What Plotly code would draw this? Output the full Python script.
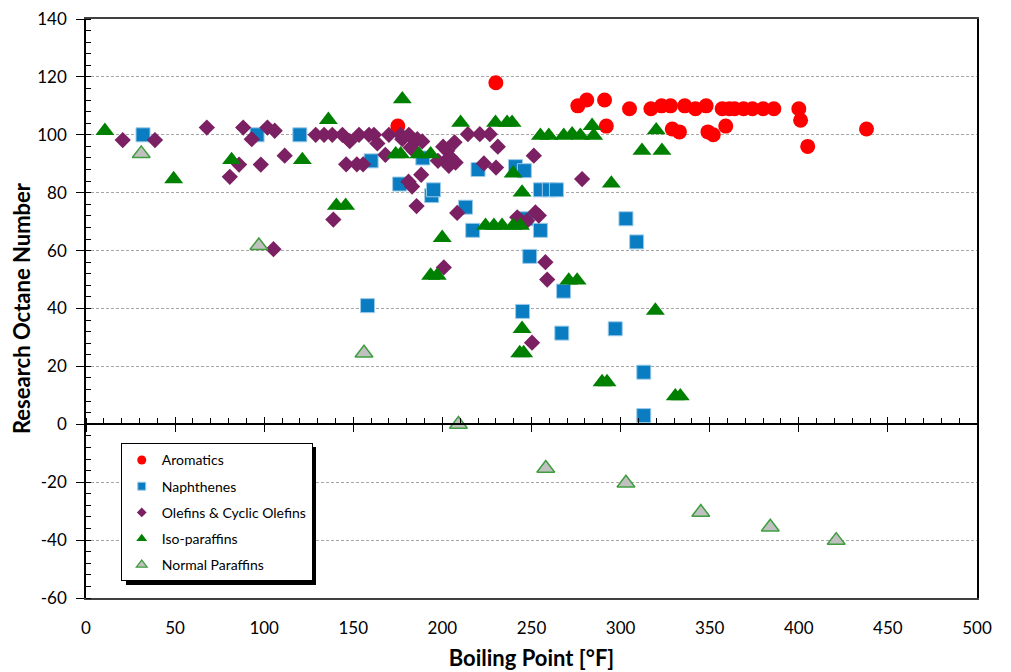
import plotly.graph_objects as go

# ---------------- data ----------------
arom_x = [175, 230, 276, 281, 291, 292, 305, 317, 323, 328, 329, 333, 336, 342, 348,
          349, 352, 357, 359, 361, 364, 369, 374, 380, 386, 400, 401, 405, 438]
arom_y = [103, 118, 110, 112, 112, 103, 109, 109, 110, 110, 102, 101, 110, 109, 110,
          101, 100, 109, 103, 109, 109, 109, 109, 109, 109, 109, 105, 96, 102]

naph_x = [32, 96, 120, 158, 160, 176, 189, 194, 195, 213, 217, 220, 241, 245, 246,
          247, 249, 255, 255, 260, 264, 267, 268, 297, 303, 309, 313, 313]
naph_y = [100, 100, 100, 41, 91, 83, 92, 79, 81, 75, 67, 88, 89, 39, 87.6,
          71, 58, 81, 67, 81, 81, 31.5, 46, 33, 71, 63, 18, 3]

olef_x = [20.6, 38.7, 67.8, 80.7, 85.9, 88.2, 93, 98.1, 101.8, 105.9, 111.5, 105.2, 138.8,
          128.9, 133.6, 138.2, 143.9, 153.2, 158.8, 161.6, 170, 176.6, 181.2,
          148, 163.5, 168, 146, 152, 155.5, 177.5, 181, 183, 185.9, 188.7, 188.1, 185.5,
          182.2, 184, 200.4, 202.7, 206.8, 204.6, 201.8, 207.4, 203.6, 197.5, 208.3, 200.8,
          214.3, 221, 226.6, 231.1, 223.3, 230.1, 251.3, 278.4, 242, 247.5, 252.2, 254.1,
          257.8, 258.8, 250.3]
olef_y = [98.2, 98.2, 102.5, 85.5, 89.7, 102.5, 98.5, 89.7, 102.5, 101.4, 92.8, 60.5, 70.7,
          100, 100, 100, 100, 100, 100, 100, 100, 100, 100,
          97.8, 97, 93.1, 89.8, 89.8, 89.8, 98.5, 83.8, 82.1, 98.5, 97.7, 86.2, 75.4,
          95.6, 94.5, 95.9, 94.5, 97.4, 92.2, 91, 90.4, 89.3, 91, 73, 54.2,
          100.2, 100.2, 100.2, 95.9, 90.1, 88.7, 92.8, 84.7, 71.5, 70.3, 73.2, 72.1,
          56, 50, 28.2]

iso_x = [10.6, 49.2, 81.7, 121.4, 136, 140.5, 145.7, 177.5, 173.8, 176.6, 186.8, 193.4,
         210.2, 229.8, 236.3, 239.1, 255, 259.7, 268.1, 272.8, 277.4, 284, 284.9,
         239.7, 244.7, 199.9, 193.4, 197.1, 224.2, 228.9, 233.5, 239.7, 243.8,
         270.9, 275.6, 294.8, 312, 320, 323.2, 244.7, 243.4, 245.6, 289.6, 292.4,
         319.5, 330.7, 333.5]
iso_y = [101.4, 84.7, 91.3, 91.3, 105.2, 75.5, 75.5, 112.3, 93.3, 93.3, 93.3, 93.3,
         104.2, 104.2, 104.2, 104.2, 99.7, 99.7, 99.7, 100.2, 99.7, 103.1, 99.7,
         86.7, 80.1, 64.4, 51.4, 51.4, 68.6, 68.6, 68.6, 68.6, 68.6,
         49.7, 49.7, 83.2, 94.5, 101.6, 94.5, 33, 24.6, 24.6, 14.6, 14.6,
         39.3, 9.7, 9.7]

norm_x = [31, 97, 156, 209, 258, 303, 345, 384, 421]
norm_y = [93.5, 61.7, 24.6, 0, -15.2, -20.3, -30.4, -35.5, -40.1]

x_ticks = [0, 50, 100, 150, 200, 250, 300, 350, 400, 450, 500]
y_ticks = [-60, -40, -20, 0, 20, 40, 60, 80, 100, 120, 140]

FONT = "Lato"

series = [
    ("Aromatics", arom_x, arom_y, dict(symbol="circle", size=15, color="#FF0000",
                                       line=dict(width=0))),
    ("Naphthenes", naph_x, naph_y, dict(symbol="square", size=14, color="#0A7CC1",
                                        line=dict(width=1, color="#9CCBEA"))),
    ("Olefins & Cyclic Olefins", olef_x, olef_y, dict(symbol="diamond", size=12.5,
                                                      color="#7B2062",
                                                      line=dict(width=0))),
    ("Iso-paraffins", iso_x, iso_y, dict(symbol="triangle-up", size=16.5, color="#008000",
                                         line=dict(width=0))),
    ("Normal Paraffins", norm_x, norm_y, dict(symbol="triangle-up", size=15.5,
                                              color="#C0C0C0",
                                              line=dict(width=1.5, color="#3E9E3E"))),
]

fig = go.Figure()
for name, xs, ys, mk in series:
    fig.add_trace(go.Scatter(x=xs, y=ys, mode="markers", name=name, marker=mk,
                             showlegend=False, hoverinfo="x+y+name"))

# legend proxies with smaller markers (also anchor the overlaid x axes at y = 0)
leg_sizes = {"Aromatics": 9, "Naphthenes": 8, "Olefins & Cyclic Olefins": 7.5,
             "Iso-paraffins": 9.5, "Normal Paraffins": 9.5}
for name, xs, ys, mk in series:
    m = dict(mk)
    m["size"] = leg_sizes[name]
    if name == "Normal Paraffins":
        m["line"] = dict(width=1.2, color="#3E9E3E")
    xa = "x3" if name == "Normal Paraffins" else "x2"
    fig.add_trace(go.Scatter(x=[None], y=[None], mode="markers", name=name, marker=m,
                             showlegend=True, legendgroup=name, xaxis=xa, yaxis="y"))

axis_font = dict(family=FONT, size=17, color="#000000")

# legend drop shadow (plot area: 891 x 579 px, origin at left 86 / bottom 598)
PW, PH = 891.0, 579.0
def px_x(p):
    return (p - 86) / PW
def px_y(p):
    return (598 - p) / PH

fig.add_shape(type="rect", xref="paper", yref="paper",
              x0=px_x(126), x1=px_x(316), y0=px_y(585), y1=px_y(447),
              fillcolor="#000000", line=dict(width=0), layer="above")

fig.update_layout(
    width=1011, height=672,
    margin=dict(l=86, r=34, t=19, b=74, autoexpand=False),
    paper_bgcolor="white", plot_bgcolor="white",
    font=dict(family=FONT, color="#000000"),
    showlegend=True,
    legend=dict(x=0.039, y=0.267, xanchor="left", yanchor="top",
                bgcolor="white", bordercolor="#000000", borderwidth=1,
                font=dict(family=FONT, size=14, color="#000000"),
                tracegroupgap=5, itemwidth=30),
    xaxis=dict(range=[0, 500], tickvals=x_ticks, ticktext=[str(v) for v in x_ticks],
               showline=True, linecolor="#404040", linewidth=1.5, mirror=True,
               ticks="", showgrid=False, zeroline=False, automargin=False,
               tickfont=axis_font, ticklabelstandoff=14,
               title=dict(text="<b>Boiling Point [°F]</b>",
                          font=dict(family=FONT, size=22, color="#000000"), standoff=13)),
    xaxis2=dict(range=[0, 500], overlaying="x", matches="x", anchor="free", position=0.3,
                side="bottom", showline=True, linecolor="#000000", linewidth=1.5,
                ticks="outside", ticklen=7, tickwidth=1, tickcolor="#000000",
                dtick=50, tick0=0, showticklabels=False, showgrid=False, zeroline=False,
                automargin=False,
                minor=dict(ticks="inside", ticklen=6, dtick=10, tickcolor="#000000",
                           tickwidth=1, showgrid=False)),
    xaxis3=dict(range=[0, 500], overlaying="x", matches="x", anchor="free", position=0.3,
                side="bottom", showline=False, ticks="inside", ticklen=7, tickwidth=1,
                tickcolor="#000000", dtick=50, tick0=0, showticklabels=False,
                showgrid=False, zeroline=False, automargin=False),
    yaxis=dict(range=[-60, 140], tickvals=y_ticks, ticktext=[str(v) for v in y_ticks],
               showline=True, linecolor="#000000", linewidth=1.5, mirror=True,
               ticks="outside", ticklen=8, tickwidth=1, tickcolor="#000000",
               minor=dict(ticks="inside", ticklen=5, dtick=4, tick0=0,
                          tickcolor="#000000", showgrid=False),
               showgrid=True, gridcolor="#A6A6A6", griddash="3px,2px", gridwidth=1,
               zeroline=False, tickfont=axis_font, ticklabelstandoff=6, automargin=False,
               title=dict(text="<b>Research Octane Number</b>",
                          font=dict(family=FONT, size=22, color="#000000"), standoff=1)),
)

fig.write_html("out.html")
